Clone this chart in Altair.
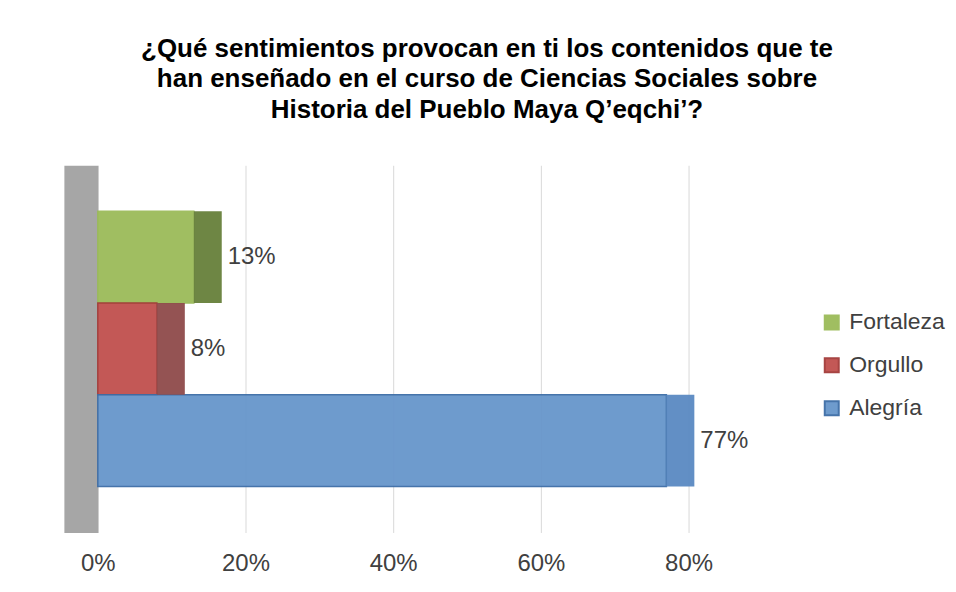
import altair as alt
import pandas as pd

categories = ["Fortaleza", "Orgullo", "Alegría"]
values = [13, 8, 77]
front_colors = ["#9bbb59", "#c0504d", "#6796cb"]
stroke_colors = ["#9bbb59", "#a33b39", "#3d6da6"]
side_colors = ["#66803a", "#8e4a4a", "#5a89c2"]
x_ticks = [0, 20, 40, 60, 80]
title_lines = [
    "¿Qué sentimientos provocan en ti los contenidos que te",
    "han enseñado en el curso de Ciencias Sociales sobre",
    "Historia del Pueblo Maya Q’eqchi’?",
]

df = pd.DataFrame({"cat": categories, "value": values, "side": side_colors})

FONT = "Liberation Sans"
W, H = 592, 368

y_enc = alt.Y(
    "cat:N",
    sort=categories,
    scale=alt.Scale(paddingInner=0, paddingOuter=0.5),
    axis=alt.Axis(
        title=None, labels=False, ticks=False, grid=False,
        domain=True, domainColor="#a6a6a6", domainWidth=34, offset=17,
    ),
)
x_enc = alt.X(
    "value:Q",
    scale=alt.Scale(domain=[0, 80], nice=False, zero=True),
    axis=alt.Axis(
        title=None, values=x_ticks, labelExpr="datum.value + '%'",
        domain=False, ticks=False, grid=True, gridColor="#d9d9d9",
        labelFontSize=24, labelColor="#404040", labelFont=FONT,
        labelPadding=19, labelFlush=False,
    ),
)

legend = alt.Legend(
    title=None, orient="none", legendX=724, legendY=146,
    symbolType="square", symbolSize=196, symbolStrokeWidth=2,
    labelFontSize=23, labelColor="#404040", labelFont=FONT,
    rowPadding=19, labelOffset=6,
)

front = alt.Chart(df).mark_bar(strokeWidth=1.5, opacity=0.95).encode(
    y=y_enc,
    x=x_enc,
    fill=alt.Fill(
        "cat:N",
        scale=alt.Scale(domain=categories, range=front_colors),
        legend=legend,
    ),
    stroke=alt.Stroke(
        "cat:N",
        scale=alt.Scale(domain=categories, range=stroke_colors),
        legend=legend,
    ),
)

side = alt.Chart(df).mark_rect(x2Offset=28, opacity=0.95).encode(
    y=alt.Y("cat:N", sort=categories),
    x=alt.X("value:Q"),
    x2=alt.X2("value:Q"),
    fill=alt.Fill("side:N", scale=None, legend=None),
)

labels = alt.Chart(df).mark_text(
    align="left", baseline="middle", dx=34, fontSize=24,
    color="#404040", font=FONT,
).encode(
    y=alt.Y("cat:N", sort=categories),
    x=alt.X("value:Q"),
    text=alt.Text("label:N"),
).transform_calculate(label="datum.value + '%'")

chart = alt.layer(front, side, labels).properties(
    width=W,
    height=H,
    title=alt.TitleParams(
        text=title_lines, fontSize=26, font=FONT, fontWeight="bold",
        color="#000000", anchor="middle", dx=94, offset=42, lineHeight=31,
    ),
    autosize=alt.AutoSizeParams(type="none"),
    padding={"left": 90, "top": 157, "right": 260, "bottom": 45},
).configure_view(stroke=None)

chart.save("out.html", embed_options={"renderer": "svg", "actions": False})
